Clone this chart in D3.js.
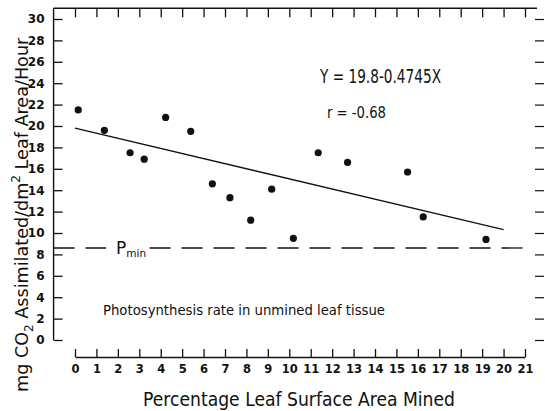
<!DOCTYPE html>
<html>
<head>
<meta charset="utf-8">
<script src="https://cdn.jsdelivr.net/npm/d3@7"></script>
<style>
  html, body { margin: 0; padding: 0; background: #fff; }
  svg { display: block; }
  text { font-family: "DejaVu Sans", sans-serif; fill: #111; }
</style>
</head>
<body>
<svg id="chart" width="545" height="411"></svg>
<script>
// ---- data ----
const mined = [0.15, 1.37, 2.57, 3.23, 4.23, 5.4, 6.41, 7.23, 8.2, 9.18, 10.19, 11.35, 12.72, 15.52, 16.25, 19.18];
const rate  = [21.5, 19.6, 17.5, 16.9, 20.8, 19.5, 14.6, 13.3, 11.2, 14.1, 9.5, 17.5, 16.6, 15.7, 11.5, 9.4];
const regression = [19.8, -0.4745];          // intercept, slope
const regressionRange = [0, 20];
const pMin = [8.6];
const xTicks = d3.range(0, 22, 1);
const yTicks = d3.range(0, 31, 2);
const equationText = "Y = 19.8-0.4745X";
const rText = "r = -0.68";
const noteText = "Photosynthesis rate in unmined leaf tissue";
const xTitle = "Percentage Leaf Surface Area Mined";

// ---- scales ----
const x = d3.scaleLinear().domain([0, 21]).range([75, 525]);
const y = d3.scaleLinear().domain([0, 30]).range([340, 19]);

const svg = d3.select("#chart");
const ink = "#111";
const leftX = x(-1);
const topY = y(31);
const bottomAxisY = 357;
const rightTickX = 535;

// frame lines
svg.append("line").attr("x1", leftX).attr("x2", leftX).attr("y1", topY).attr("y2", y(0))
  .attr("stroke", ink).attr("stroke-width", 1.4);
svg.append("line").attr("x1", leftX).attr("x2", 537).attr("y1", topY).attr("y2", topY)
  .attr("stroke", ink).attr("stroke-width", 1.4);

// left axis (ticks inward)
const gLeft = svg.append("g").attr("transform", `translate(${leftX},0)`)
  .call(d3.axisLeft(y).tickValues(yTicks).tickSizeInner(-9).tickSizeOuter(0).tickPadding(9));
gLeft.select(".domain").remove();
gLeft.selectAll("line").attr("stroke", ink).attr("stroke-width", 1.3);
gLeft.selectAll("text").style("font-size", "12px").style("font-weight", "bold").attr("fill", ink);

// top ticks
const gTop = svg.append("g").attr("transform", `translate(0,${topY})`)
  .call(d3.axisTop(x).tickValues(xTicks).tickSizeInner(-9).tickSizeOuter(0).tickFormat(""));
gTop.select(".domain").remove();
gTop.selectAll("line").attr("stroke", ink).attr("stroke-width", 1.3);

// right ticks
const gRight = svg.append("g").attr("transform", `translate(${rightTickX},0)`)
  .call(d3.axisRight(y).tickValues(yTicks).tickSizeInner(9).tickSizeOuter(0).tickFormat(""));
gRight.select(".domain").remove();
gRight.selectAll("line").attr("stroke", ink).attr("stroke-width", 1.2);

// bottom axis
const gBottom = svg.append("g").attr("transform", `translate(0,${bottomAxisY})`)
  .call(d3.axisBottom(x).tickValues(xTicks).tickSizeInner(-8).tickSizeOuter(0).tickPadding(8));
gBottom.select(".domain").attr("stroke", ink).attr("stroke-width", 1.3);
gBottom.selectAll("line").attr("stroke", ink).attr("stroke-width", 1.3);
gBottom.selectAll("text").style("font-size", "11.5px").style("font-weight", "bold").attr("fill", ink);

// Pmin dashed line
svg.append("line").attr("x1", leftX).attr("x2", x(21))
  .attr("y1", y(pMin[0])).attr("y2", y(pMin[0]))
  .attr("stroke", ink).attr("stroke-width", 1.3).attr("stroke-dasharray", "21,11");
svg.append("rect").attr("x", 106).attr("y", y(pMin[0]) - 10).attr("width", 43).attr("height", 20).attr("fill", "#fff");
const pt = svg.append("text").attr("x", 116).attr("y", y(pMin[0]) + 6).style("font-size", "17px");
pt.append("tspan").text("P");
pt.append("tspan").attr("dy", 3).style("font-size", "10.5px").text("min");

// regression line
svg.append("line")
  .attr("x1", x(regressionRange[0])).attr("y1", y(regression[0] + regression[1] * regressionRange[0]))
  .attr("x2", x(regressionRange[1])).attr("y2", y(regression[0] + regression[1] * regressionRange[1]))
  .attr("stroke", ink).attr("stroke-width", 1.4);

// points
svg.append("g").selectAll("circle").data(mined.map((m, i) => [m, rate[i]])).join("circle")
  .attr("cx", d => x(d[0])).attr("cy", d => y(d[1])).attr("r", 3.6).attr("fill", ink);

// annotations
svg.append("text").attr("x", 320).attr("y", 83).style("font-size", "19px")
  .attr("textLength", 121).attr("lengthAdjust", "spacingAndGlyphs").text(equationText);
svg.append("text").attr("x", 327).attr("y", 118).style("font-size", "16.5px")
  .attr("textLength", 59).attr("lengthAdjust", "spacingAndGlyphs").text(rText);
svg.append("text").attr("x", 103).attr("y", 315).style("font-size", "14px")
  .attr("textLength", 282).attr("lengthAdjust", "spacingAndGlyphs").text(noteText);

// axis titles
svg.append("text").attr("x", 143).attr("y", 406).style("font-size", "19.5px")
  .attr("textLength", 312).attr("lengthAdjust", "spacingAndGlyphs").text(xTitle);

const yt = svg.append("text").attr("transform", "translate(28,392) rotate(-90)")
  .style("font-size", "17.6px");
yt.append("tspan").text("mg CO");
yt.append("tspan").attr("dy", 5).style("font-size", "12px").text("2");
yt.append("tspan").attr("dy", -5).text(" Assimilated/dm");
yt.append("tspan").attr("dy", -8).style("font-size", "12px").text("2");
yt.append("tspan").attr("dy", 8).text(" Leaf Area/Hour");
</script>
</body>
</html>
